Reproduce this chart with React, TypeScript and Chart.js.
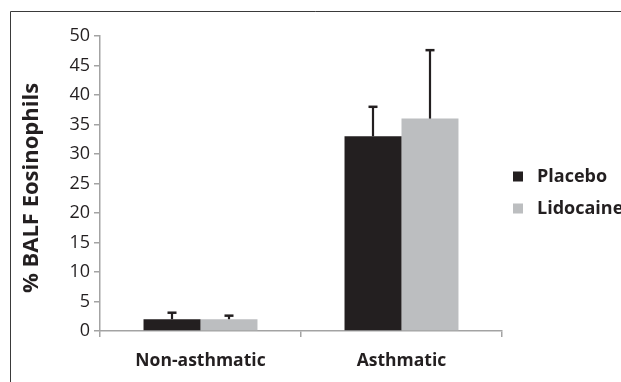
import React, { useEffect, useRef } from "react";
import { Chart, registerables } from "chart.js";

Chart.register(...registerables);

const categories = ["Non-asthmatic", "Asthmatic"];
const seriesNames = ["Placebo", "Lidocaine"];
const placeboValues = [2, 33];
const lidocaineValues = [2, 36];
const placeboErrors = [1.1, 5];
const lidocaineErrors = [0.6, 11.6];
const yTitle = "% BALF Eosinophils";
const yMin = 0;
const yMax = 50;
const yStep = 5;

const FONT = "'Open Sans', 'DejaVu Sans', sans-serif";
const DARK = "#231f20";
const LIGHT = "#bcbec0";
const AXIS = "#a3a3a3";

const errors = [placeboErrors, lidocaineErrors];

const decorPlugin = {
  id: "decor",
  beforeDraw(chart: any) {
    const ctx = chart.ctx;
    ctx.save();
    ctx.fillStyle = "#ffffff";
    ctx.fillRect(0, 0, chart.width, chart.height);
    ctx.strokeStyle = "#3a3a3a";
    ctx.lineWidth = 1;
    ctx.beginPath();
    ctx.moveTo(10.5, chart.height);
    ctx.lineTo(10.5, 11.5);
    ctx.lineTo(chart.width, 11.5);
    ctx.stroke();
    ctx.restore();
  },
  afterDatasetsDraw(chart: any) {
    const ctx = chart.ctx;
    const yScale = chart.scales.y;
    ctx.save();
    chart.data.datasets.forEach((ds: any, i: number) => {
      const meta = chart.getDatasetMeta(i);
      meta.data.forEach((bar: any, j: number) => {
        const v = ds.data[j];
        const e = errors[i][j];
        const top = yScale.getPixelForValue(v + e);
        const x = Math.round(bar.x);
        ctx.strokeStyle = DARK;
        ctx.lineWidth = 2.2;
        ctx.beginPath();
        ctx.moveTo(x, bar.y);
        ctx.lineTo(x, top);
        ctx.stroke();
        ctx.lineWidth = 2.5;
        ctx.beginPath();
        ctx.moveTo(x - 4.5, top);
        ctx.lineTo(x + 4.5, top);
        ctx.stroke();
      });
    });
    ctx.restore();
  },
  afterDraw(chart: any) {
    const ctx = chart.ctx;
    ctx.save();
    ctx.translate(32, 188);
    ctx.rotate(-Math.PI / 2);
    ctx.font = `bold 22px ${FONT}`;
    ctx.fillStyle = DARK;
    ctx.textAlign = "center";
    ctx.textBaseline = "middle";
    ctx.fillText(yTitle, 0, 0);
    ctx.restore();
    ctx.save();
    chart.data.datasets.forEach((ds: any, i: number) => {
      const cy = 176.5 + i * 32;
      ctx.fillStyle = ds.backgroundColor;
      ctx.fillRect(513, cy - 5, 10, 10);
      ctx.fillStyle = DARK;
      ctx.font = `bold 18px ${FONT}`;
      ctx.textAlign = "left";
      ctx.textBaseline = "middle";
      ctx.fillText(ds.label, 537, cy);
    });
    ctx.restore();
  },
};

export default function App() {
  const ref = useRef<HTMLCanvasElement | null>(null);
  useEffect(() => {
    if (!ref.current) return;
    const chart = new Chart(ref.current, {
      type: "bar",
      data: {
        labels: categories,
        datasets: [
          {
            label: seriesNames[0],
            data: placeboValues,
            backgroundColor: DARK,
            categoryPercentage: 0.567,
            barPercentage: 1.0,
          },
          {
            label: seriesNames[1],
            data: lidocaineValues,
            backgroundColor: LIGHT,
            categoryPercentage: 0.567,
            barPercentage: 1.0,
          },
        ],
      },
      options: {
        responsive: false,
        animation: false,
        devicePixelRatio: 1,
        layout: { padding: { top: 36, right: 119, left: 0, bottom: 0 } },
        plugins: {
          legend: { display: false },
          tooltip: { enabled: false },
          title: { display: false },
        },
        scales: {
          x: {
            offset: true,
            grid: {
              display: true,
              drawOnChartArea: false,
              drawTicks: true,
              tickLength: 6,
              color: AXIS,
              lineWidth: 1.5,
              offset: true,
            },
            border: { display: true, color: AXIS, width: 1.5 },
            ticks: {
              color: DARK,
              padding: 14,
              font: { family: FONT, size: 17.5, weight: "bold" },
            },
            afterFit: (s: any) => {
              s.height = 51;
            },
          },
          y: {
            min: yMin,
            max: yMax,
            grid: {
              display: true,
              drawOnChartArea: false,
              drawTicks: true,
              tickLength: 6,
              color: AXIS,
              lineWidth: 1.5,
            },
            border: { display: true, color: AXIS, width: 1.5 },
            ticks: {
              stepSize: yStep,
              color: DARK,
              padding: 4,
              font: { family: FONT, size: 18 },
            },
            afterFit: (s: any) => {
              s.width = 100;
            },
          },
        },
      },
      plugins: [decorPlugin],
    });
    return () => chart.destroy();
  }, []);
  return (
    <div style={{ position: "fixed", left: 0, top: 0, width: 621, height: 382 }}>
      <canvas ref={ref} width={621} height={382} />
    </div>
  );
}
